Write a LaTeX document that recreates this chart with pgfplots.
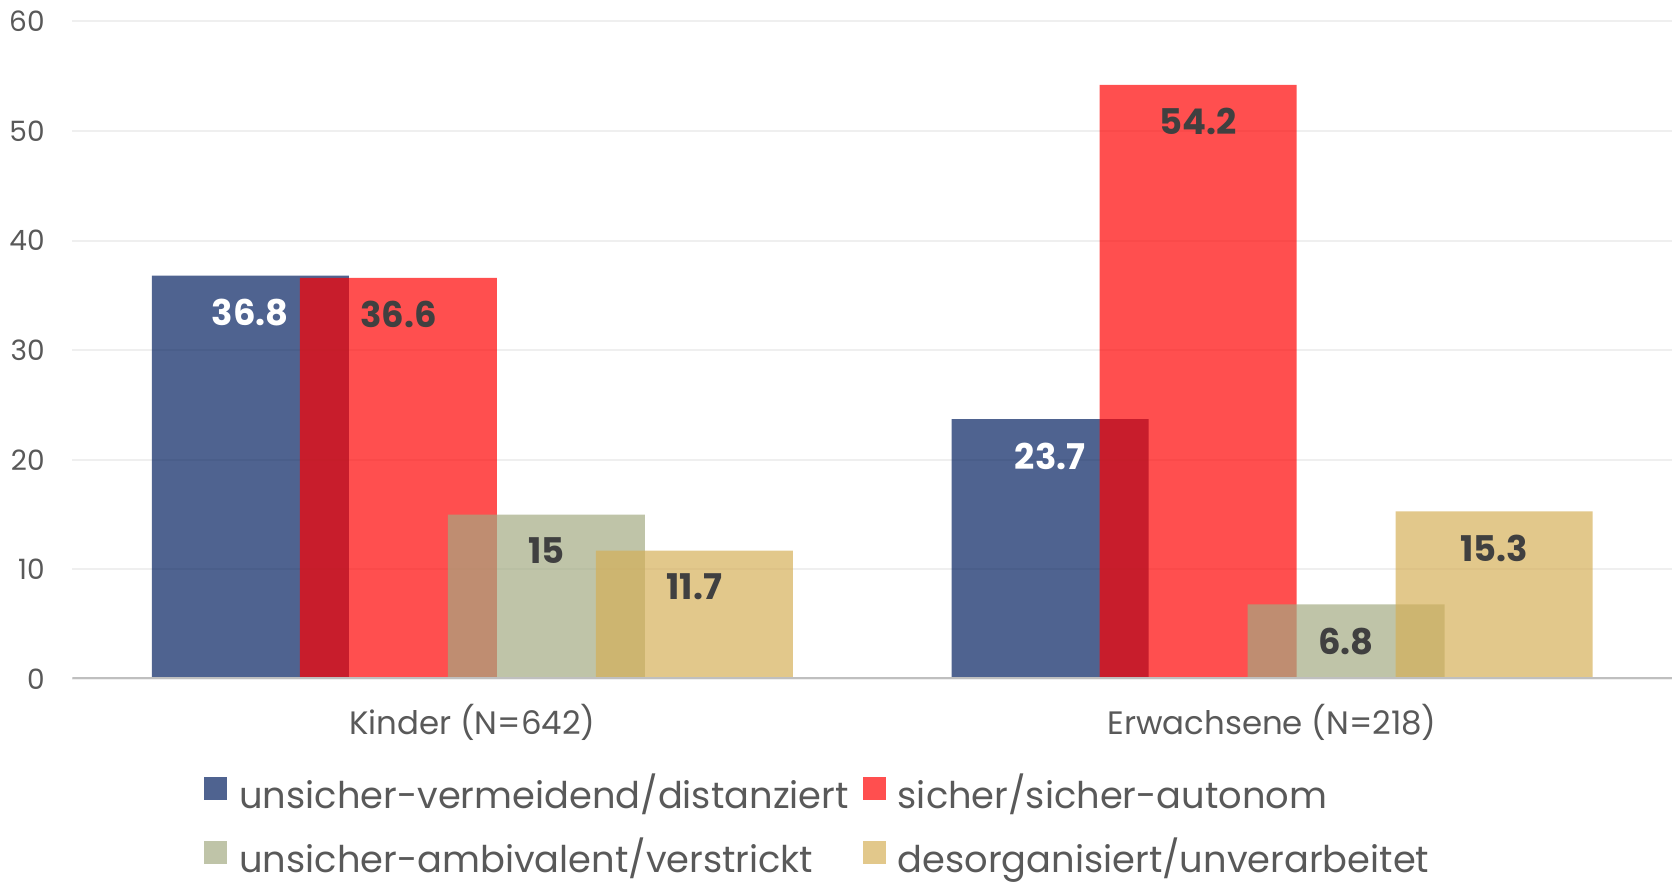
\documentclass[border=0pt]{standalone}
\usepackage{pgfplots}
\pgfplotsset{compat=1.18}
\usepackage{fontspec}
\setmainfont{Poppins}
\definecolor{cBlue}{HTML}{001D5E}
\definecolor{cRed}{HTML}{FF0000}
\definecolor{cGreen}{HTML}{A2AA81}
\definecolor{cGold}{HTML}{D5AF57}
\definecolor{tickgray}{HTML}{595959}
\definecolor{lblgray}{HTML}{404040}
\definecolor{gridgray}{HTML}{EFEFEF}
\definecolor{axisgray}{HTML}{BFBFBF}
\begin{document}
\begin{tikzpicture}
\begin{axis}[
    scale only axis,
    width=799.75pt, height=328.85pt,
    xmin=-0.5, xmax=1.5,
    ymin=0, ymax=60,
    ytick={0,10,...,60},
    xtick={0,1},
    xticklabels={Kinder (N=642), Erwachsene (N=218)},
    major tick length=0pt,
    ymajorgrids,
    grid style={gridgray, line width=1pt},
    axis line style={draw=none},
    /pgf/number format/assume math mode=true,
    yticklabel style={font=\fontsize{14}{15}\selectfont, text=tickgray, inner sep=0pt, anchor=east, xshift=-13.75pt},
    xticklabel style={font=\fontsize{16.2}{18}\selectfont, text=tickgray, inner sep=0pt, anchor=base, yshift=-28pt},
    nodes near coords,
    nodes near coords style={font=\bfseries\fontsize{17.7}{19}\selectfont, text=lblgray, fill opacity=1, text opacity=1, inner sep=0pt, anchor=north, yshift=-11.5pt},
    legend columns=2,
    legend cell align=left,
    legend style={draw=none, fill=none, at={(0.0822,-0.149)}, anchor=north west,
        font=\fontsize{18.4}{20}\selectfont, text=tickgray, inner sep=0pt,
        nodes={inner sep=0pt, text height=12pt, text depth=4pt},
        row sep=12.5pt,
        /tikz/every even column/.append style={column sep=7pt}},
    legend image code/.code={\fill[#1] (0pt,0pt) rectangle (11.5pt,11.5pt);},
]
\addplot[ybar, bar width=0.2463, bar shift=0pt, fill=cBlue, fill opacity=0.69, draw=none,
    nodes near coords style={text=white}]
    coordinates {(-0.2776,36.8) (0.7224,23.7)};
\addlegendentry{\hspace{6pt}unsicher-vermeidend/distanziert}
\addplot[ybar, bar width=0.2463, bar shift=0pt, fill=cRed, fill opacity=0.69, draw=none]
    coordinates {(-0.0925,36.6) (0.9075,54.2)};
\addlegendentry{\hspace{6pt}sicher/sicher-autonom}
\addplot[ybar, bar width=0.2463, bar shift=0pt, fill=cGreen, fill opacity=0.69, draw=none]
    coordinates {(0.0925,15) (1.0925,6.8)};
\addlegendentry{\hspace{6pt}unsicher-ambivalent/verstrickt}
\addplot[ybar, bar width=0.2463, bar shift=0pt, fill=cGold, fill opacity=0.69, draw=none]
    coordinates {(0.2776,11.7) (1.2776,15.3)};
\addlegendentry{\hspace{6pt}desorganisiert/unverarbeitet}
\draw[axisgray, line width=1.5pt] (rel axis cs:0,0) -- (rel axis cs:1,0);
\end{axis}
\pgfresetboundingbox
\path[use as bounding box] (-36.25pt,-101.5pt) rectangle (799.75pt,339.5pt);
\end{tikzpicture}
\end{document}
